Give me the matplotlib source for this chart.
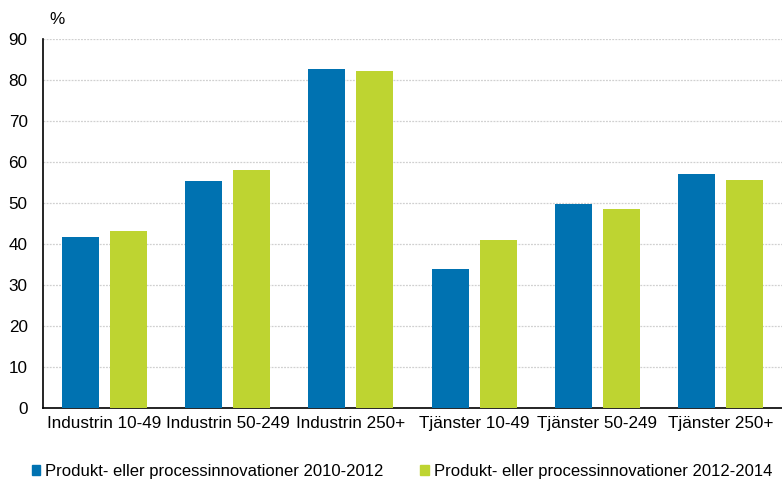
import numpy as np
import matplotlib.pyplot as plt
from matplotlib.patches import Patch

plt.rcParams['font.family'] = ['Liberation Sans', 'DejaVu Sans']

categories = ['Industrin 10-49', 'Industrin 50-249', 'Industrin 250+',
              'Tjänster 10-49', 'Tjänster 50-249', 'Tjänster 250+']
innov_2010_2012 = [41.6, 55.3, 82.7, 33.8, 49.8, 57.2]
innov_2012_2014 = [43.1, 58.0, 82.3, 40.9, 48.6, 55.7]
series_names = ['Produkt- eller processinnovationer 2010-2012',
                'Produkt- eller processinnovationer 2012-2014']

blue = '#0072B1'
green = '#BED431'
fs = 12.3

fig = plt.figure(figsize=(7.82, 4.82), dpi=100)
ax = fig.add_axes([0.055, 0.1535, 0.945, 0.7655])

x = np.arange(len(categories))
w = 0.30
ax.bar(x - 0.195, innov_2010_2012, w, color=blue, zorder=3)
ax.bar(x + 0.195, innov_2012_2014, w, color=green, zorder=3)

ax.set_xlim(-0.5, len(categories) - 0.5)
ax.set_ylim(0, 90)
ax.set_yticks(range(0, 91, 10))
ax.yaxis.grid(True, color='#d0d0d0', linestyle=(0, (1.5, 1)), linewidth=0.9, zorder=0)
ax.set_xticks(x)
ax.set_xticklabels(categories, fontsize=fs)
ax.tick_params(axis='y', labelsize=fs, length=0, pad=11)
ax.tick_params(axis='x', length=0, pad=6)
for s in ['top', 'right']:
    ax.spines[s].set_visible(False)
for s in ['left', 'bottom']:
    ax.spines[s].set_color('black')
    ax.spines[s].set_linewidth(1.2)

fig.text(0.063, 0.96, '%', fontsize=fs, ha='left', va='center')

handles = [Patch(color=blue), Patch(color=green)]
fig.legend(handles, series_names, loc='center left', bbox_to_anchor=(0.041, 0.022),
           ncol=2, frameon=False, fontsize=12, handlelength=0.5, handleheight=0.6,
           handletextpad=0.3, columnspacing=2.2, borderaxespad=0, borderpad=0)

fig.savefig('out.png', dpi=100)
